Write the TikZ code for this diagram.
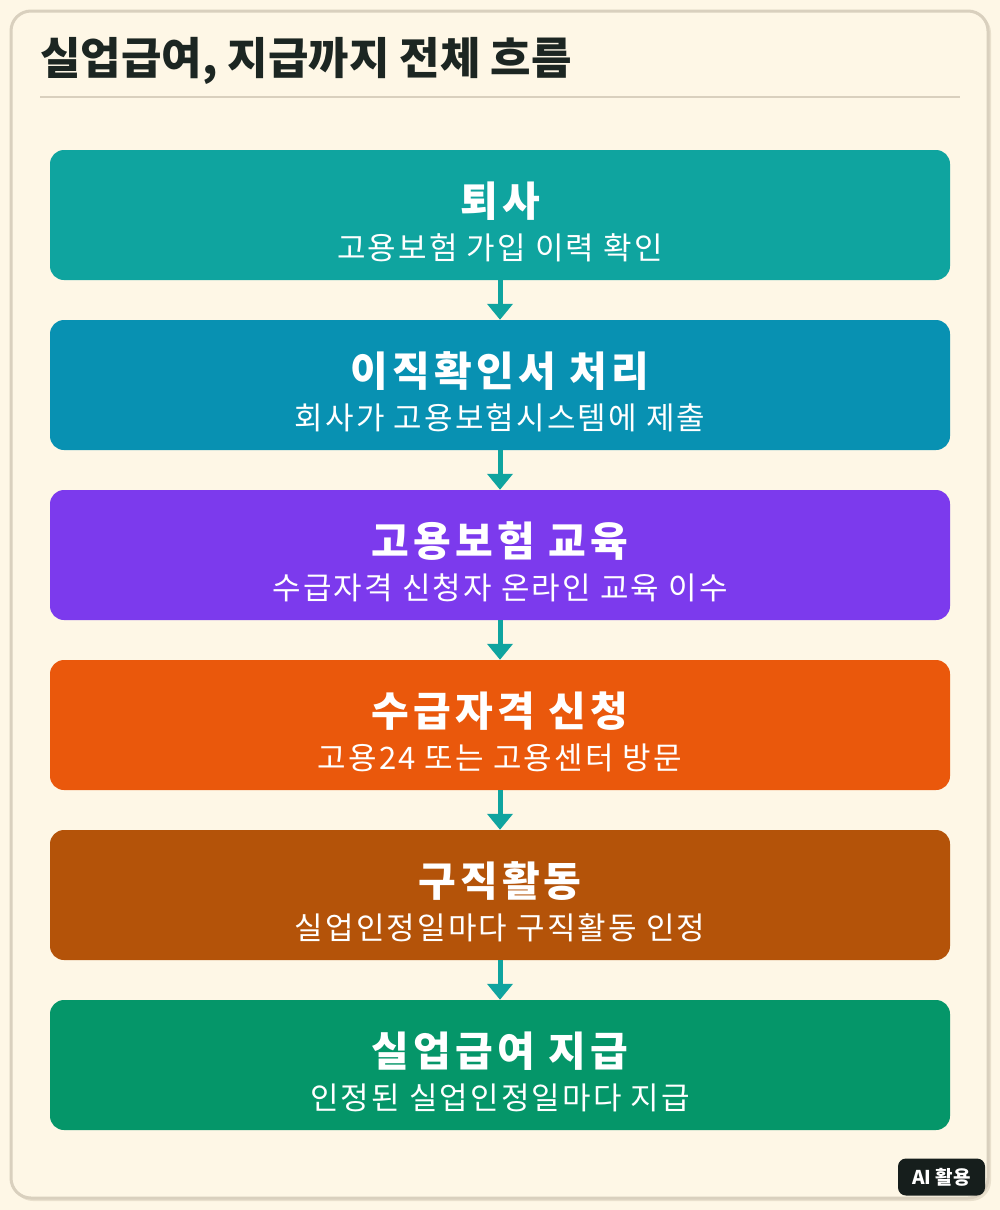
\documentclass[tikz,border=0pt]{standalone}
\usepackage{fontspec}
\setmainfont{Noto Sans CJK KR}
\newfontfamily\headfont[LetterSpace=10]{Noto Sans CJK KR}
\newfontfamily\subfont[LetterSpace=7]{Noto Sans CJK KR}
\usetikzlibrary{arrows.meta}
\definecolor{bg}{HTML}{FEF7E6}
\definecolor{frame}{HTML}{D9D0BE}
\definecolor{shadowc}{HTML}{E9E0CD}
\definecolor{titlec}{HTML}{1C2622}
\definecolor{cA}{HTML}{0FA49F}
\definecolor{cB}{HTML}{0891B2}
\definecolor{cC}{HTML}{7C3AED}
\definecolor{cD}{HTML}{EA580C}
\definecolor{cE}{HTML}{B45309}
\definecolor{cF}{HTML}{059669}
\definecolor{arrowc}{HTML}{0FA49F}
\definecolor{badge}{HTML}{161E1C}
\tikzset{
  stepbox/.style={rounded corners=14pt, minimum width=900pt, minimum height=130pt, inner sep=0pt, draw=none},
  headtxt/.style={text=white, font=\headfont\fontsize{41}{48}\selectfont\bfseries, inner sep=0pt},
  subtxt/.style={text=white, font=\subfont\fontsize{31}{36}\selectfont, inner sep=0pt},
  flow/.style={draw=arrowc, line width=5pt, -{Triangle[width=25pt,length=16pt]}, shorten >=0pt},
}
\begin{document}
\begin{tikzpicture}[x=1pt,y=-1pt]
\fill[bg] (0,0) rectangle (1000,1210);
\useasboundingbox (0,0) rectangle (1000,1210);
% frame with shadow
\fill[shadowc, rounded corners=20pt] (13,13) rectangle (991,1201);
\draw[frame, line width=3pt, fill=bg, rounded corners=20pt] (11,11) rectangle (988,1198);
% title
\node[anchor=west, text=titlec, font=\fontsize{44}{52}\selectfont\bfseries, inner sep=0pt] (title) at (40,61) {실업급여, 지급까지 전체 흐름};
\draw[frame, line width=2pt] (40,97) -- (960,97);
% boxes
\node[stepbox, fill=cA] (b1) at (500,215) {};
\node[stepbox, fill=cB] (b2) at (500,385) {};
\node[stepbox, fill=cC] (b3) at (500,555) {};
\node[stepbox, fill=cD] (b4) at (500,725) {};
\node[stepbox, fill=cE] (b5) at (500,895) {};
\node[stepbox, fill=cF] (b6) at (500,1065) {};
% texts
\node[headtxt] (h1) at (500,201) {퇴사};
\node[subtxt] (s1) at (500,248) {고용보험 가입 이력 확인};
\node[headtxt] (h2) at (500,371) {이직확인서 처리};
\node[subtxt] (s2) at (500,418) {회사가 고용보험시스템에 제출};
\node[headtxt] (h3) at (500,541) {고용보험 교육};
\node[subtxt] (s3) at (500,588) {수급자격 신청자 온라인 교육 이수};
\node[headtxt] (h4) at (500,711) {수급자격 신청};
\node[subtxt] (s4) at (500,758) {고용24 또는 고용센터 방문};
\node[headtxt] (h5) at (500,881) {구직활동};
\node[subtxt] (s5) at (500,928) {실업인정일마다 구직활동 인정};
\node[headtxt] (h6) at (500,1051) {실업급여 지급};
\node[subtxt] (s6) at (500,1098) {인정된 실업인정일마다 지급};
% arrows
\draw[flow] (b1.south) -- (b2.north);
\draw[flow] (b2.south) -- (b3.north);
\draw[flow] (b3.south) -- (b4.north);
\draw[flow] (b4.south) -- (b5.north);
\draw[flow] (b5.south) -- (b6.north);
% badge
\node[fill=badge, rounded corners=8pt, minimum width=87pt, minimum height=37pt, inner sep=0pt, text=white, font=\fontsize{19}{22}\selectfont\bfseries] (badge) at (941.5,1177) {AI 활용};
\end{tikzpicture}
\end{document}
